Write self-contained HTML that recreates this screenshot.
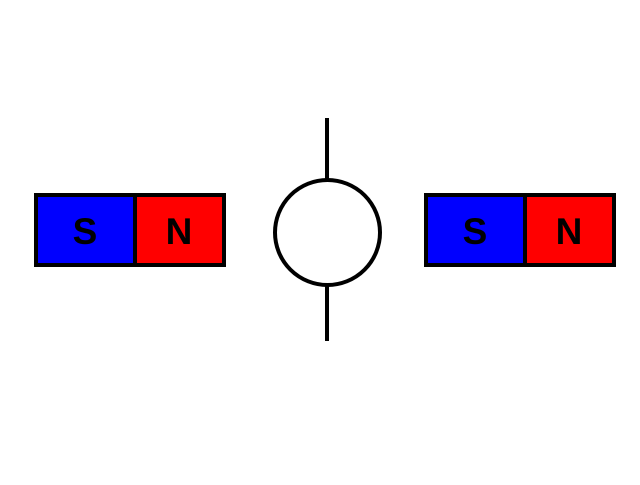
<!DOCTYPE html>
<html><head><style>html,body{margin:0;padding:0;background:#fff;}</style></head>
<body>
<svg width="640" height="480" viewBox="0 0 640 480" xmlns="http://www.w3.org/2000/svg">
<rect width="640" height="480" fill="#fff"/>
<g stroke="#000" stroke-width="4">
<rect x="36" y="195" width="99" height="70" fill="#0000ff"/>
<rect x="135" y="195" width="89" height="70" fill="#ff0000"/>
<rect x="426" y="195" width="99" height="70" fill="#0000ff"/>
<rect x="525" y="195" width="89" height="70" fill="#ff0000"/>
<circle cx="327.5" cy="232.5" r="52.5" fill="#fff"/>
<line x1="327" y1="118" x2="327" y2="180"/>
<line x1="327" y1="285" x2="327" y2="341"/>
</g>
<g font-family="Liberation Sans, sans-serif" font-weight="bold" font-size="37" text-anchor="middle" fill="#000">
<text x="85" y="244">S</text>
<text x="179" y="244">N</text>
<text x="475" y="244">S</text>
<text x="569" y="244">N</text>
</g>
</svg>
</body></html>
